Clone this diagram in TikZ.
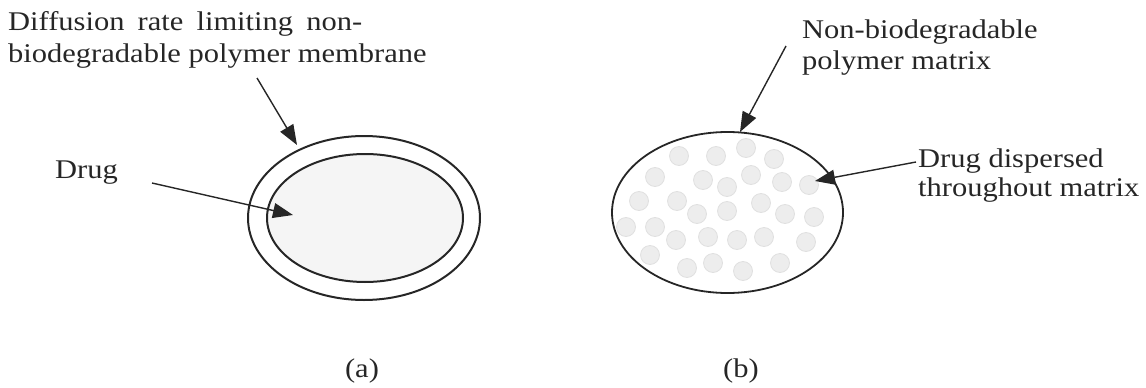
\documentclass[tikz,border=0pt]{standalone}
\usepackage{fontspec}
\setmainfont{Liberation Serif}[FakeStretch=1.13]
\usetikzlibrary{arrows.meta,shapes.geometric}
\begin{document}
\begin{tikzpicture}[x=1pt,y=-1pt,
  lbl/.style={anchor=base west,inner sep=0pt,font=\fontsize{27}{32}\selectfont,text=black!85,align=left},
  captxt/.style={inner sep=0pt,font=\fontsize{27}{32}\selectfont,text=black!85},
  shell/.style={ellipse,draw=black!85,line width=2pt,inner sep=0pt},
  dot/.style={circle,fill=black!7,draw=black!12,line width=0.8pt,minimum size=19pt,inner sep=0pt},
  arr/.style={draw=black!85,line width=1.4pt,-{Triangle[length=20pt,width=15pt]}}]
\useasboundingbox (0,0) rectangle (1146,388);
% (a)
\node[shell,minimum width=232pt,minimum height=164pt] (outer) at (364,218) {};
\node[shell,fill=black!4,minimum width=196pt,minimum height=128pt] (inner) at (365,218) {};
\node[lbl] (memb) at (8,30) {\makebox[354pt][s]{Diffusion rate limiting non-}};
\node[lbl] (memb2) at (8,62) {biodegradable polymer membrane};
\node[lbl] (drug) at (55,178) {Drug};
\coordinate (mtip) at (297,145);
\coordinate (mstart) at (257,78);
\coordinate (dstart) at (152,183);
\coordinate (dtip) at (293,215);
\draw[arr] (mstart) -- (mtip);
\draw[arr] (dstart) -- (dtip);
\node[captxt] (capa) at (362,371) {(a)};
% (b)
\node[shell,line width=1.8pt,minimum width=231pt,minimum height=161pt] (matrix) at (727.5,212.5) {};
\foreach \p [count=\i] in {(679,156),(716,156),(746,148),(774,159),(655,177),(703,180),(751,175),(727,187),(782,182),(809,185),(639,201),(677,201),(697,214),(727,211),(761,203),(785,214),(814,217),(626,227),(655,227),(676,240),(708,237),(737,240),(764,237),(806,242),(650,255),(687,268),(713,263),(743,271),(780,263)}
  \node[dot] (d\i) at \p {};
\node[lbl] (nb1) at (802,38) {Non-biodegradable};
\node[lbl] (nb2) at (802,69) {polymer matrix};
\node[lbl] (dd1) at (918,167) {Drug dispersed};
\node[lbl] (dd2) at (918,196) {throughout matrix};
\coordinate (nstart) at (786,46);
\coordinate (ntip) at (740,132);
\coordinate (ddstart) at (916,162);
\coordinate (ddtip) at (815,181);
\draw[arr] (nstart) -- (ntip);
\draw[arr] (ddstart) -- (ddtip);
\node[captxt] (capb) at (741,371) {(b)};
\end{tikzpicture}
\end{document}
